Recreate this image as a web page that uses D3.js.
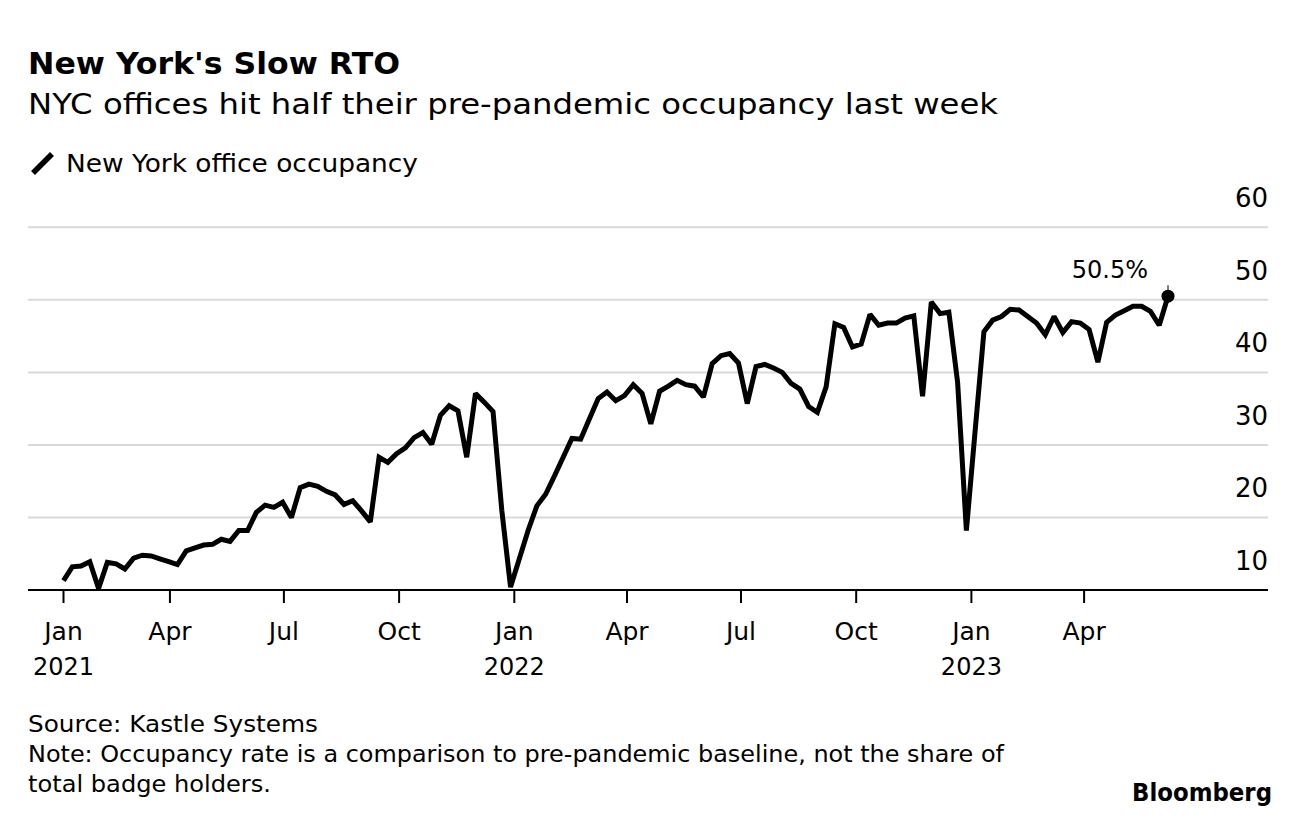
<!DOCTYPE html>
<html>
<head>
<meta charset="utf-8">
<script src="https://cdn.jsdelivr.net/npm/d3@7"></script>
<style>
  html, body { margin: 0; padding: 0; background: #fff; }
  svg { display: block; font-family: "DejaVu Sans", "Liberation Sans", Arial, sans-serif; }
</style>
</head>
<body>
<svg id="chart" width="1296" height="824"></svg>
<script>
// ---- data ----
const startDate = "2021-01-06"; // first weekly observation
const occupancy = [
  11.3, 13.2, 13.3, 13.9, 10.2, 13.8, 13.6, 12.9, 14.4, 14.8,
  14.7, 14.3, 13.9, 13.5, 15.4, 15.8, 16.2, 16.3, 17.0, 16.7,
  18.2, 18.2, 20.7, 21.7, 21.4, 22.1, 20.0, 24.1, 24.6, 24.3,
  23.6, 23.1, 21.8, 22.3, 20.9, 19.4, 28.3, 27.6, 28.8, 29.6,
  31.0, 31.7, 30.1, 34.1, 35.4, 34.7, 28.3, 37.1, 35.9, 34.6,
  21.0, 10.4, 14.3, 18.2, 21.6, 23.2, 25.7, 28.3, 30.9, 30.8,
  33.6, 36.4, 37.3, 36.1, 36.8, 38.3, 37.1, 32.9, 37.4, 38.1,
  38.9, 38.3, 38.1, 36.6, 41.2, 42.3, 42.6, 41.3, 35.7, 40.8,
  41.1, 40.6, 40.0, 38.5, 37.7, 35.3, 34.5, 38.0, 46.7, 46.2,
  43.5, 43.9, 48.0, 46.5, 46.8, 46.8, 47.5, 47.8, 36.7, 49.7,
  48.1, 48.3, 38.6, 18.2, 32.0, 45.6, 47.2, 47.7, 48.7, 48.6,
  47.7, 46.8, 45.2, 47.7, 45.5, 47.0, 46.8, 45.9, 41.4, 46.9,
  47.9, 48.5, 49.1, 49.1, 48.4, 46.5, 50.5
];
const yTicks = [10, 20, 30, 40, 50, 60];
const xTickDates = ["2021-01-06","2021-04-01","2021-07-01","2021-10-01","2022-01-01",
                    "2022-04-01","2022-07-01","2022-10-01","2023-01-01","2023-04-01"];
const xTickMonths = ["Jan","Apr","Jul","Oct","Jan","Apr","Jul","Oct","Jan","Apr"];
const xTickYears  = ["2021","","","","2022","","","","2023",""];
const lastLabel = "50.5%";

// ---- setup ----
const parse = d3.timeParse("%Y-%m-%d");
const t0 = parse(startDate);
const data = occupancy.map((v, i) => ({ date: d3.timeDay.offset(t0, i * 7), value: v }));

const svg = d3.select("#chart");
const left = 28, right = 1268;

const x = d3.scaleTime()
  .domain([data[0].date, data[data.length - 1].date])
  .range([63.5, 1168]);
const y = d3.scaleLinear().domain([10, 60]).range([590, 227.3]);

function fitText(sel, w) {
  return sel.attr("textLength", w).attr("lengthAdjust", "spacingAndGlyphs");
}

// titles
fitText(svg.append("text").attr("x", left).attr("y", 74)
  .attr("font-size", 30).attr("font-weight", "bold").attr("fill", "#000")
  .text("New York's Slow RTO"), 372);
fitText(svg.append("text").attr("x", left).attr("y", 114)
  .attr("font-size", 29).attr("fill", "#000")
  .text("NYC offices hit half their pre-pandemic occupancy last week"), 970);

// legend
svg.append("line").attr("x1", 33).attr("y1", 173).attr("x2", 52).attr("y2", 154)
  .attr("stroke", "#000").attr("stroke-width", 5.5);
fitText(svg.append("text").attr("x", 66).attr("y", 172)
  .attr("font-size", 24).attr("fill", "#000")
  .text("New York office occupancy"), 352);

// gridlines
svg.append("g").selectAll("line").data(yTicks.filter(d => d !== 10)).join("line")
  .attr("x1", left).attr("x2", right)
  .attr("y1", d => y(d)).attr("y2", d => y(d))
  .attr("stroke", "#d9d9d9").attr("stroke-width", 2);

// y labels
svg.append("g").selectAll("text").data(yTicks).join("text")
  .attr("x", right).attr("y", d => y(d) - 20)
  .attr("text-anchor", "end").attr("font-size", 26).attr("fill", "#000")
  .text(d => d);

// x axis baseline
svg.append("line").attr("x1", left).attr("x2", right).attr("y1", y(10)).attr("y2", y(10))
  .attr("stroke", "#000").attr("stroke-width", 2);

// x ticks
const xt = svg.append("g").selectAll("g").data(xTickDates.map((d, i) => ({ date: parse(d), m: xTickMonths[i], yr: xTickYears[i] })))
  .join("g").attr("transform", d => `translate(${x(d.date)},0)`);
xt.append("line").attr("y1", y(10)).attr("y2", y(10) + 13).attr("stroke", "#000").attr("stroke-width", 2);
xt.append("text").attr("y", 640).attr("text-anchor", "middle").attr("font-size", 25).attr("fill", "#000").text(d => d.m);
xt.append("text").attr("y", 675).attr("text-anchor", "middle").attr("font-size", 24).attr("fill", "#000").text(d => d.yr);

// line
const line = d3.line().x(d => x(d.date)).y(d => y(d.value)).curve(d3.curveLinear);
svg.append("path").datum(data).attr("d", line)
  .attr("fill", "none").attr("stroke", "#000").attr("stroke-width", 5)
  .attr("stroke-linejoin", "miter").attr("stroke-miterlimit", 2);

// end point & label
const last = data[data.length - 1];
svg.append("line").attr("x1", x(last.date)).attr("x2", x(last.date))
  .attr("y1", y(last.value) - 11).attr("y2", y(last.value))
  .attr("stroke", "#000").attr("stroke-width", 1);
svg.append("circle").attr("cx", x(last.date)).attr("cy", y(last.value)).attr("r", 6.5).attr("fill", "#000");
svg.append("text").attr("x", x(last.date) - 20).attr("y", y(last.value) - 18)
  .attr("text-anchor", "end").attr("font-size", 24).attr("fill", "#000").text(lastLabel);

// footer
const foot = ["Source: Kastle Systems",
  "Note: Occupancy rate is a comparison to pre-pandemic baseline, not the share of",
  "total badge holders."];
const footW = [290, 976, 243];
svg.append("g").selectAll("text").data(foot).join("text")
  .attr("x", left).attr("y", (d, i) => 732 + i * 30)
  .attr("font-size", 23).attr("fill", "#000")
  .attr("textLength", (d, i) => footW[i]).attr("lengthAdjust", "spacingAndGlyphs")
  .text(d => d);
fitText(svg.append("text").attr("x", 1132).attr("y", 801)
  .attr("font-size", 24).attr("font-weight", "bold").attr("fill", "#000").text("Bloomberg"), 140);
</script>
</body>
</html>
